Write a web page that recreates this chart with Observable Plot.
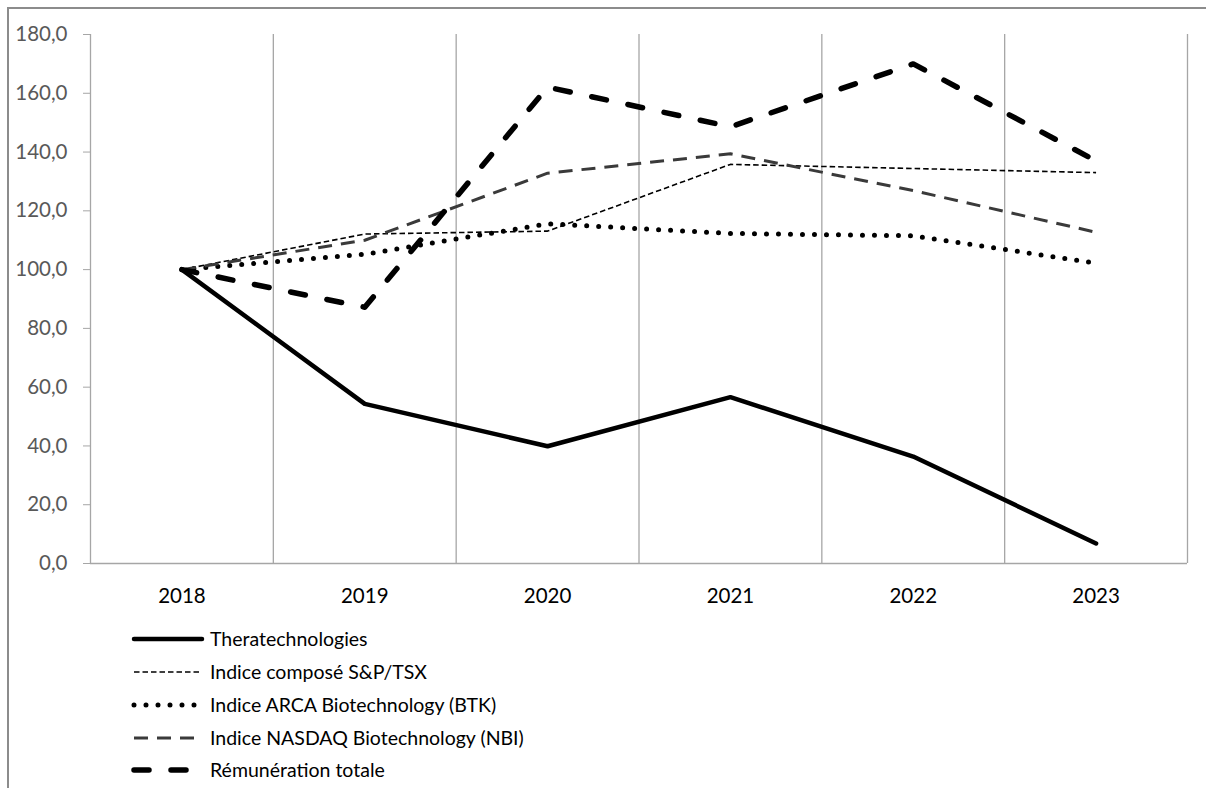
<!DOCTYPE html>
<html>
<head>
<meta charset="utf-8">
<script src="https://cdn.jsdelivr.net/npm/d3@7"></script>
<script src="https://cdn.jsdelivr.net/npm/@observablehq/plot@0.6"></script>
<style>
  html, body { margin: 0; padding: 0; overflow: hidden; background: #fff; width: 1206px; height: 788px; }
  #chart { position: absolute; left: 0; top: 0; }
  #legend { position: absolute; left: 0; top: 620px; }
  #frame { position: absolute; left: 7px; top: 7px; width: 1210px; height: 800px;
           border-top: 2px solid #8c8c8c; border-left: 2px solid #8c8c8c; pointer-events: none; }
</style>
</head>
<body>
<div id="chart"></div>
<div id="legend"></div>
<div id="frame"></div>
<script>
// ---- Data ----
const years = [2018, 2019, 2020, 2021, 2022, 2023];
const seriesNames = [
  "Theratechnologies",
  "Indice composé S&P/TSX",
  "Indice ARCA Biotechnology (BTK)",
  "Indice NASDAQ Biotechnology (NBI)",
  "Rémunération totale"
];
const theratech    = [100, 54.3, 39.9, 56.6, 36.4, 6.8];
const spTsx        = [100, 112.1, 113.1, 135.8, 134.4, 133.0];
const btk          = [100, 105.2, 115.6, 112.3, 111.5, 102.2];
const nbi          = [100, 110.0, 132.8, 139.4, 126.9, 112.7];
const remuneration = [100, 87.2, 162.1, 148.6, 170.0, 137.0];
const yTicks = [0, 20, 40, 60, 80, 100, 120, 140, 160, 180];

// ---- Styles (separate from data) ----
const seriesValues = [theratech, spTsx, btk, nbi, remuneration];
const styles = [
  {stroke: "#000", strokeWidth: 4.5, strokeDasharray: null, strokeLinecap: "round"},
  {stroke: "#000", strokeWidth: 1.6, strokeDasharray: "5.5,3", strokeLinecap: "butt"},
  {stroke: "#000", strokeWidth: 5, strokeDasharray: "0,12", strokeLinecap: "round"},
  {stroke: "#3a3a3a", strokeWidth: 3, strokeDasharray: "14,9", strokeLinecap: "butt"},
  {stroke: "#000", strokeWidth: 5.5, strokeDasharray: "15,22", strokeLinecap: "round"}
];

const table = seriesNames.flatMap((name, i) =>
  years.map((yr, j) => ({series: name, year: yr, value: seriesValues[i][j]})));

const boundaries = years.map(y => y + 0.5);
const fmt = d => d.toFixed(1).replace(".", ",");

const chart = Plot.plot({
  width: 1206,
  height: 620,
  marginLeft: 90,
  marginRight: 19,
  marginTop: 34,
  marginBottom: 57,
  style: {fontFamily: "Lato, 'Open Sans', sans-serif", background: "transparent", overflow: "visible"},
  x: {type: "linear", domain: [years[0] - 0.5, years[years.length - 1] + 0.5]},
  y: {domain: [0, 180]},
  marks: [
    Plot.ruleX(boundaries, {stroke: "#a6a6a6", strokeWidth: 1.3}),
    Plot.ruleX([years[0] - 0.5], {stroke: "#a6a6a6", strokeWidth: 1.3}),
    Plot.axisY({ticks: yTicks, tickFormat: fmt, tickSize: 7, tickPadding: 16,
                stroke: "#a6a6a6", fill: "#595959", fontSize: 20.5, label: null}),
    Plot.axisX({ticks: years, tickFormat: d => String(d), tickSize: 0, tickPadding: 25,
                fill: "#000", fontSize: 20.5, label: null}),
    Plot.ruleY([0], {stroke: "#a6a6a6", strokeWidth: 1.5}),
    ...seriesNames.map((name, i) => Plot.line(table.filter(d => d.series === name), {
      x: "year", y: "value",
      stroke: styles[i].stroke,
      strokeWidth: styles[i].strokeWidth,
      strokeDasharray: styles[i].strokeDasharray,
      strokeLinecap: styles[i].strokeLinecap,
      strokeLinejoin: "round"
    }))
  ]
});
document.getElementById("chart").appendChild(chart);

// ---- Legend ----
const legendRowY = [19, 52, 85, 118, 150];
const leg = d3.select("#legend").append("svg")
  .attr("width", 1206).attr("height", 168)
  .style("font-family", "Lato, 'Open Sans', sans-serif");
seriesNames.forEach((name, i) => {
  const g = leg.append("g").attr("transform", `translate(0,${legendRowY[i]})`);
  g.append("line")
    .attr("x1", 134).attr("x2", 202).attr("y1", 0).attr("y2", 0)
    .attr("stroke", styles[i].stroke)
    .attr("stroke-width", styles[i].strokeWidth)
    .attr("stroke-dasharray", styles[i].strokeDasharray)
    .attr("stroke-linecap", styles[i].strokeLinecap);
  g.append("text")
    .attr("x", 210).attr("y", 0).attr("dy", "0.35em")
    .attr("font-size", 19.5).attr("fill", "#000")
    .text(name);
});
</script>
</body>
</html>
